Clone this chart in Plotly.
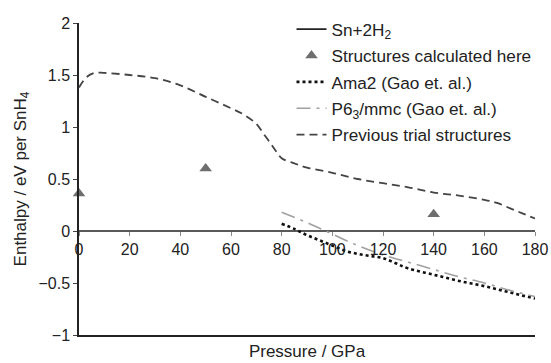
import plotly.graph_objects as go

# Data
ref_x = [0, 180]
ref_y = [0, 0]

tri_x = [0, 50, 140]
tri_y = [0.36, 0.60, 0.16]

ama2_x = [80, 85, 90, 95, 100, 105, 110, 115, 120, 125, 130, 140, 150, 160, 170, 180]
ama2_y = [0.07, 0.02, -0.04, -0.09, -0.14, -0.19, -0.22, -0.24, -0.26, -0.31, -0.36, -0.42, -0.48, -0.53, -0.59, -0.65]

p63_x = [80, 90, 100, 110, 120, 130, 140, 150, 160, 170, 180]
p63_y = [0.18, 0.08, -0.03, -0.14, -0.23, -0.30, -0.37, -0.44, -0.50, -0.57, -0.63]

prev_x = [0, 3, 6, 10, 20, 30, 40, 50, 60, 65, 70, 73, 76, 78, 80, 85, 90, 100, 110, 120,
          130, 140, 150, 160, 165, 170, 175, 180]
prev_y = [1.38, 1.48, 1.52, 1.52, 1.50, 1.47, 1.40, 1.29, 1.18, 1.12, 1.03, 0.93, 0.83, 0.76,
          0.70, 0.65, 0.61, 0.56, 0.50, 0.46, 0.42, 0.37, 0.34, 0.30, 0.27, 0.22, 0.17, 0.12]

x_ticks = [0, 20, 40, 60, 80, 100, 120, 140, 160, 180]
y_ticks = [-1, -0.5, 0, 0.5, 1, 1.5, 2]

FONT = "Liberation Sans, Arial, sans-serif"
TXT = "#222222"

fig = go.Figure()
fig.add_trace(go.Scatter(x=ref_x, y=ref_y, mode="lines", name="Sn+2H<sub>2</sub>",
                         line=dict(color="#222222", width=1.6), legendgroup="a"))
fig.add_trace(go.Scatter(x=tri_x, y=tri_y, mode="markers", name="Structures calculated here",
                         marker=dict(symbol="triangle-up", size=11, color="#6e6e6e"),
                         legendgroup="b", cliponaxis=False))
fig.add_trace(go.Scatter(x=ama2_x, y=ama2_y, mode="lines", name="Ama2 (Gao et. al.)",
                         line=dict(color="#111111", width=2.6, dash="dot", shape="spline"),
                         legendgroup="c"))
fig.add_trace(go.Scatter(x=p63_x, y=p63_y, mode="lines", name="P6<sub>3</sub>/mmc (Gao et. al.)",
                         line=dict(color="#a0a0a0", width=1.6, dash="14px,6px,3px,6px", shape="spline"),
                         legendgroup="d"))
fig.add_trace(go.Scatter(x=prev_x, y=prev_y, mode="lines", name="Previous trial structures",
                         line=dict(color="#444444", width=1.8, dash="8px,5px", shape="spline"),
                         legendgroup="e"))

fig.update_layout(
    width=551, height=363,
    margin=dict(l=79, r=16, t=23, b=28, autoexpand=False),
    paper_bgcolor="white", plot_bgcolor="white",
    font=dict(family=FONT, size=16, color=TXT),
    showlegend=True,
    legend=dict(x=0.466, y=1.037, xanchor="left", yanchor="top",
                font=dict(size=17.2, color=TXT), bgcolor="rgba(0,0,0,0)",
                tracegroupgap=1, traceorder="grouped", itemwidth=30),
    xaxis=dict(range=[0, 180], showgrid=False, zeroline=False,
               showline=True, linecolor="#222222", linewidth=1.5,
               showticklabels=False, ticks="",
               title=dict(text="Pressure / GPa", font=dict(size=17, color=TXT), standoff=9)),
    xaxis2=dict(range=[0, 180], overlaying="x", anchor="free", position=1/3,
                side="bottom", showgrid=False, zeroline=False, showline=False,
                ticks="outside", ticklen=4, tickcolor="#888888",
                tickvals=x_ticks, ticktext=[str(v) for v in x_ticks],
                tickfont=dict(size=16, color=TXT)),
    yaxis=dict(range=[-1, 2], showgrid=False, zeroline=False,
               showline=True, linecolor="#222222", linewidth=1.5,
               ticks="outside", ticklen=4, tickcolor="#444444",
               tickvals=y_ticks, tickfont=dict(size=16, color=TXT),
               title=dict(text="Enthalpy / eV per SnH<sub>4</sub>", font=dict(size=17, color=TXT), standoff=8)),
)
# invisible helper trace to activate xaxis2
fig.add_trace(go.Scatter(x=[0, 180], y=[None, None], xaxis="x2", showlegend=False,
                         hoverinfo="skip"))

fig.write_html("out.html")
